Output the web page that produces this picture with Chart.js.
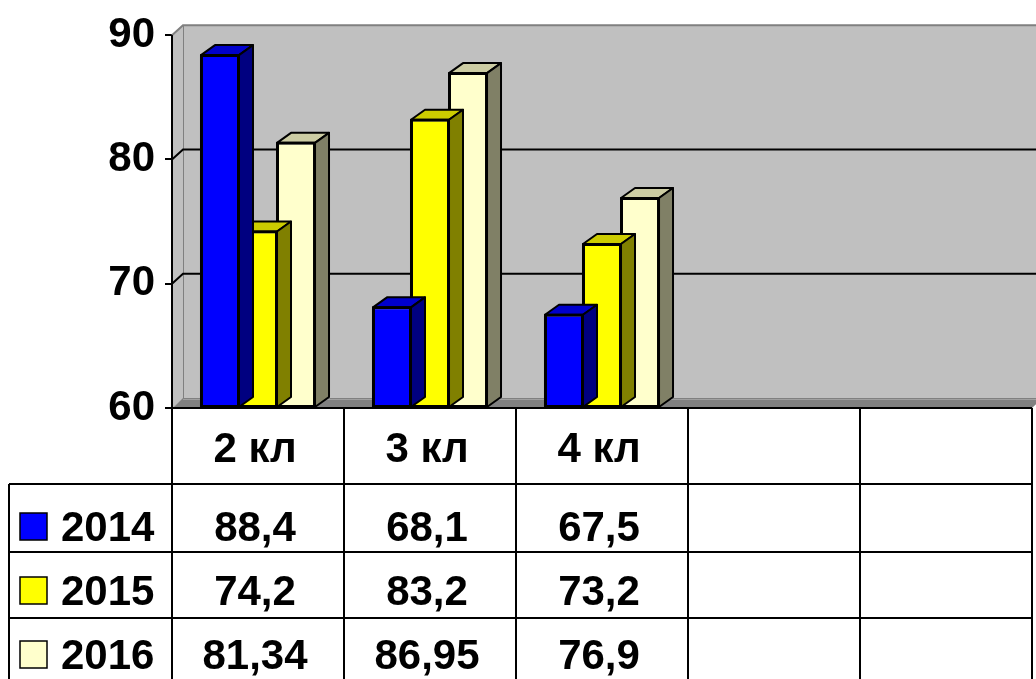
<!DOCTYPE html>
<html>
<head>
<meta charset="utf-8">
<script src="https://cdn.jsdelivr.net/npm/chart.js@4/dist/chart.umd.min.js"></script>
<style>
html,body{margin:0;padding:0;background:#fff;}
#wrap{width:1036px;height:679px;position:relative;}
</style>
</head>
<body>
<div id="wrap"><canvas id="c"></canvas></div>
<script>
// ---- data ----
const categories = ['2 кл', '3 кл', '4 кл', '', ''];
const seriesNames = ['2014', '2015', '2016'];
const values2014 = [88.4, 68.1, 67.5, null, null];
const values2015 = [74.2, 83.2, 73.2, null, null];
const values2016 = [81.34, 86.95, 76.9, null, null];
const yMin = 60, yMax = 90, yStep = 10;

// ---- styles ----
const frontColors = ['#0000FF', '#FFFF00', '#FFFFCC'];
const topColors = ['#0000CC', '#CCCC00', '#CCCCA3'];
const sideColors = ['#000080', '#808000', '#808066'];
const FONT = '"Liberation Sans", Arial, sans-serif';
const WX = 11, WY = 10;   // wall depth offset
const BX = 14, BY = 10;   // bar depth offset

function fmt(v) { return v == null ? '' : String(v).replace('.', ','); }

const plugin3d = {
  id: 'excel3d',
  beforeDatasetsDraw(chart) {
    const ctx = chart.ctx, ca = chart.chartArea, ys = chart.scales.y;
    const W = chart.width;
    const yTop = ys.getPixelForValue(yMax), yBot = ys.getPixelForValue(yMin);
    ctx.save();
    // back wall
    ctx.fillStyle = '#C0C0C0';
    ctx.fillRect(ca.left + WX, yTop - WY, W - ca.left - WX, yBot - yTop);
    // side wall
    ctx.beginPath();
    ctx.moveTo(ca.left, yTop); ctx.lineTo(ca.left + WX, yTop - WY);
    ctx.lineTo(ca.left + WX, yBot - WY); ctx.lineTo(ca.left, yBot);
    ctx.closePath(); ctx.fill();
    // floor
    ctx.fillStyle = '#808080';
    ctx.beginPath();
    ctx.moveTo(ca.left, yBot); ctx.lineTo(ca.left + WX, yBot - WY);
    ctx.lineTo(ca.right + WX, yBot - WY); ctx.lineTo(ca.right, yBot);
    ctx.closePath(); ctx.fill();
    ctx.strokeStyle = '#A0A0A0'; ctx.lineWidth = 1;
    ctx.beginPath();
    ctx.moveTo(ca.left + WX, yBot - WY + 1.5); ctx.lineTo(ca.right + WX, yBot - WY + 1.5);
    ctx.moveTo(ca.left + 1, yBot); ctx.lineTo(ca.left + WX, yBot - WY);
    ctx.stroke();
    // wall edges
    ctx.strokeStyle = '#808080'; ctx.lineWidth = 2;
    ctx.beginPath();
    ctx.moveTo(ca.left, yTop); ctx.lineTo(ca.left + WX, yTop - WY); ctx.lineTo(W, yTop - WY);
    ctx.stroke();
    ctx.lineWidth = 1;
    ctx.beginPath();
    ctx.moveTo(ca.left + WX + 0.5, yTop - WY); ctx.lineTo(ca.left + WX + 0.5, yBot - WY);
    ctx.stroke();
    // gridlines on the wall
    ctx.strokeStyle = '#000'; ctx.lineWidth = 2;
    for (let v = yMin + yStep; v < yMax; v += yStep) {
      const y = ys.getPixelForValue(v);
      ctx.beginPath();
      ctx.moveTo(ca.left, y); ctx.lineTo(ca.left + WX, y - WY); ctx.lineTo(W, y - WY);
      ctx.stroke();
    }
    // axis line
    ctx.beginPath();
    ctx.moveTo(ca.left, yTop); ctx.lineTo(ca.left, yBot);
    ctx.stroke();
    ctx.restore();
  },
  afterDatasetDraw(chart, args) {
    const ctx = chart.ctx, i = args.index, ca = chart.chartArea;
    const meta = chart.getDatasetMeta(i);
    ctx.save();
    ctx.strokeStyle = '#000'; ctx.lineWidth = 2; ctx.lineJoin = 'round';
    meta.data.forEach((bar, j) => {
      const v = chart.data.datasets[i].data[j];
      if (v == null) return;
      const p = bar.getProps(['x', 'y', 'base', 'width'], true);
      const L = p.x - p.width / 2, R = p.x + p.width / 2, T = p.y, B = Math.min(p.base, ca.bottom);
      // top face
      ctx.fillStyle = topColors[i];
      ctx.beginPath();
      ctx.moveTo(L, T); ctx.lineTo(L + BX, T - BY); ctx.lineTo(R + BX, T - BY); ctx.lineTo(R, T);
      ctx.closePath(); ctx.fill(); ctx.stroke();
      // side face
      ctx.fillStyle = sideColors[i];
      ctx.beginPath();
      ctx.moveTo(R, T); ctx.lineTo(R + BX, T - BY); ctx.lineTo(R + BX, B - BY); ctx.lineTo(R, B);
      ctx.closePath(); ctx.fill(); ctx.stroke();
      // front outline redraw
      ctx.strokeRect(L, T, R - L, B - T);
    });
    ctx.restore();
  },
  afterDraw(chart) {
    const ctx = chart.ctx, ca = chart.chartArea;
    const H = chart.height;
    const n = categories.length;
    const colW = (ca.right - ca.left) / n;
    const rowLines = [484, 552, 618];
    const baselines = [541, 605, 669];
    const headerBase = 462;
    const tableLeft = 9;
    const series = [values2014, values2015, values2016];
    ctx.save();
    ctx.strokeStyle = '#000'; ctx.lineWidth = 2;
    ctx.beginPath();
    ctx.moveTo(ca.left, ca.bottom); ctx.lineTo(ca.right, ca.bottom);
    rowLines.forEach(y => { ctx.moveTo(tableLeft, y); ctx.lineTo(ca.right, y); });
    ctx.moveTo(tableLeft, rowLines[0]); ctx.lineTo(tableLeft, H);
    for (let k = 0; k <= n; k++) {
      const x = ca.left + k * colW;
      ctx.moveTo(x, k === 0 ? ca.top : ca.bottom); ctx.lineTo(x, H);
    }
    ctx.stroke();
    // texts
    ctx.fillStyle = '#000';
    ctx.font = 'bold 42px ' + FONT;
    ctx.textAlign = 'center'; ctx.textBaseline = 'alphabetic';
    const xs = chart.scales.x;
    categories.forEach((c, j) => {
      const cx = xs.getPixelForValue(j) - 3;
      ctx.fillText(c, cx, headerBase);
      series.forEach((s, r) => ctx.fillText(fmt(s[j]), cx, baselines[r]));
    });
    // legend keys and names
    ctx.textAlign = 'left';
    seriesNames.forEach((name, r) => {
      const ky = baselines[r] - 28;
      ctx.fillStyle = frontColors[r];
      ctx.fillRect(20, ky, 27, 27);
      ctx.lineWidth = 1.5; ctx.strokeStyle = '#000';
      ctx.strokeRect(20, ky, 27, 27);
      ctx.fillStyle = '#000';
      ctx.fillText(name, 61, baselines[r]);
    });
    ctx.restore();
  }
};

new Chart(document.getElementById('c'), {
  type: 'bar',
  data: {
    labels: categories,
    datasets: [
      { label: seriesNames[0], data: values2014, backgroundColor: frontColors[0] },
      { label: seriesNames[1], data: values2015, backgroundColor: frontColors[1] },
      { label: seriesNames[2], data: values2016, backgroundColor: frontColors[2] }
    ].map(d => Object.assign(d, {
      base: yMin,
      borderColor: '#000', borderWidth: 2, borderSkipped: false,
      categoryPercentage: 0.663, barPercentage: 1.0
    }))
  },
  options: {
    responsive: true,
    maintainAspectRatio: false,
    animation: false,
    layout: { padding: { top: 31, right: 4, bottom: 271, left: 0 } },
    plugins: { legend: { display: false }, tooltip: { enabled: false } },
    scales: {
      x: { display: false },
      y: {
        min: yMin, max: yMax,
        afterFit(scale) { scale.width = 172; },
        ticks: {
          stepSize: yStep, padding: 10, color: '#000',
          font: { family: FONT, size: 42, weight: 'bold' }
        },
        grid: { drawOnChartArea: false, drawTicks: true, tickLength: 7, color: '#000', lineWidth: 2 },
        border: { display: true, color: '#000', width: 2 }
      }
    }
  },
  plugins: [plugin3d]
});
</script>
</body>
</html>
